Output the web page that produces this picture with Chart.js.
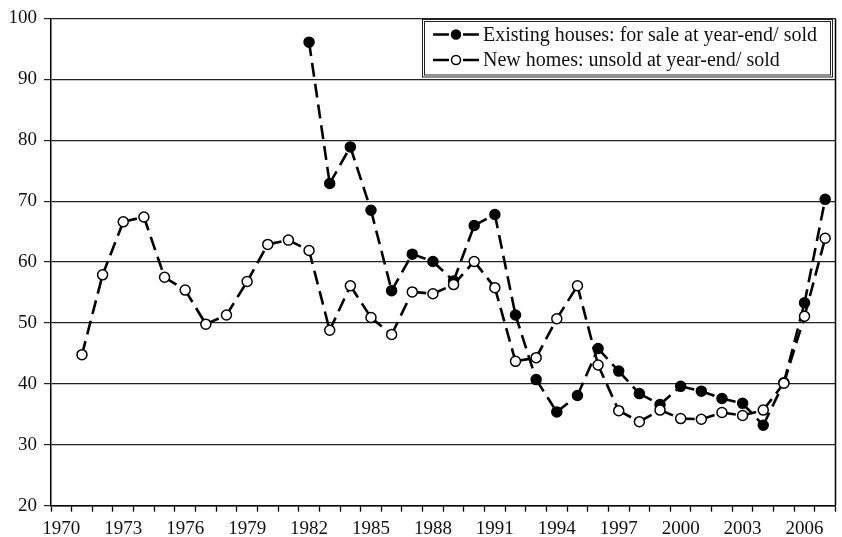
<!DOCTYPE html>
<html><head><meta charset="utf-8">
<script src="https://cdn.jsdelivr.net/npm/chart.js@4.4.1/dist/chart.umd.min.js"></script>
<style>html,body{margin:0;padding:0;background:#fff;}#wrap{width:842px;height:537px;position:relative;}</style>
</head><body><div id="wrap"><canvas id="c" width="842" height="537"></canvas></div>
<script>
const years = [1970,1971,1972,1973,1974,1975,1976,1977,1978,1979,1980,1981,1982,1983,1984,1985,1986,1987,1988,1989,1990,1991,1992,1993,1994,1995,1996,1997,1998,1999,2000,2001,2002,2003,2004,2005,2006,2007];
const existingHouses = [null,null,null,null,null,null,null,null,null,null,null,null,
  96.1,72.9,78.9,68.5,55.3,61.3,60.1,56.9,66.0,67.8,51.3,40.7,35.4,38.1,45.8,42.1,38.4,36.6,39.6,38.8,37.6,36.8,33.2,40.2,53.3,70.3];
const newHomes = [null,44.8,57.9,66.6,67.4,57.5,55.4,49.8,51.3,56.8,62.9,63.6,61.9,48.8,56.1,50.9,48.1,55.1,54.8,56.3,60.1,55.8,43.7,44.3,50.7,56.1,43.1,35.6,33.8,35.7,34.3,34.2,35.3,34.8,35.7,40.1,51.1,63.9];
const seriesNames = ['Existing houses: for sale at year-end/ sold','New homes: unsold at year-end/ sold'];
const yMin = 20, yMax = 100, yStep = 10;
const xLabelEvery = 3;

const FONT = 'Liberation Serif';
const DASH = [14, 7];

const segStyle = {
  borderDashOffset: ctx => ctx.p0DataIndex * 0.001
};

const borderPlugin = {
  id: 'frame',
  afterDraw(chart) {
    const {ctx, chartArea} = chart;
    ctx.save();
    ctx.strokeStyle = '#000';
    ctx.lineWidth = 1.5;
    ctx.beginPath();
    ctx.moveTo(chartArea.right, chartArea.top);
    ctx.lineTo(chartArea.right, chartArea.bottom);
    ctx.stroke();
    // legend
    const bx = 422.5, by = 19.5, bw = 410, bh = 57.5;
    ctx.fillStyle = '#fff';
    ctx.fillRect(bx, by, bw, bh);
    ctx.lineWidth = 1;
    ctx.strokeStyle = '#222';
    ctx.strokeRect(bx, by, bw, bh);
    ctx.strokeRect(bx + 2, by + 2, bw - 4, bh - 4);
    const rows = [34.5, 60];
    rows.forEach((ry, i) => {
      ctx.strokeStyle = '#000';
      ctx.lineWidth = 2.5;
      ctx.setLineDash([]);
      ctx.beginPath(); ctx.moveTo(433, ry); ctx.lineTo(449, ry); ctx.stroke();
      ctx.beginPath(); ctx.moveTo(463, ry); ctx.lineTo(479, ry); ctx.stroke();
      ctx.beginPath(); ctx.arc(456, ry, 4.5, 0, Math.PI * 2);
      ctx.fillStyle = i === 0 ? '#000' : '#fff';
      ctx.fill();
      ctx.lineWidth = 1.5; ctx.stroke();
      ctx.fillStyle = '#111';
      ctx.font = '20px "' + FONT + '"';
      ctx.textBaseline = 'middle';
      ctx.textAlign = 'left';
      ctx.fillText(seriesNames[i], 483, ry + 1);
    });
    ctx.restore();
  }
};

new Chart(document.getElementById('c'), {
  type: 'line',
  data: {
    labels: years.map(String),
    datasets: [
      {
        label: seriesNames[0], data: existingHouses, order: 1,
        borderColor: '#000', borderWidth: 2.6, borderDash: DASH,
        pointRadius: 5, pointBackgroundColor: '#000', pointBorderColor: '#000', pointBorderWidth: 1.5,
        segment: segStyle, spanGaps: false, fill: false
      },
      {
        label: seriesNames[1], data: newHomes, order: 0,
        borderColor: '#000', borderWidth: 2.6, borderDash: DASH,
        pointRadius: 5, pointBackgroundColor: '#fff', pointBorderColor: '#000', pointBorderWidth: 1.5,
        segment: segStyle, spanGaps: false, fill: false
      }
    ]
  },
  options: {
    responsive: false, animation: false, devicePixelRatio: 1,
    layout: { padding: { top: 17.7, right: 5, left: 0, bottom: 0 } },
    plugins: { legend: { display: false }, tooltip: { enabled: false } },
    elements: { line: { tension: 0 } },
    scales: {
      x: {
        type: 'category', offset: true,
        grid: { offset: true, drawOnChartArea: false, drawTicks: true, tickLength: 6, tickColor: '#000', tickWidth: 1.3 },
        border: { color: '#000', width: 1.5 },
        ticks: {
          autoSkip: false, maxRotation: 0, minRotation: 0, color: '#111', padding: 6,
          font: { family: FONT, size: 19 },
          callback: function (v, i) { const y = years[i]; return (y - years[0]) % xLabelEvery === 0 ? String(y) : ''; }
        },
        afterFit: s => { s.height = 31.3; }
      },
      y: {
        min: yMin, max: yMax,
        ticks: { stepSize: yStep, color: '#111', padding: 7, font: { family: FONT, size: 19 } },
        grid: { color: '#222', lineWidth: 1.2, tickLength: 7, tickColor: '#222' },
        border: { color: '#000', width: 1.5 },
        afterFit: s => { s.width = 51; }
      }
    }
  },
  plugins: [borderPlugin]
});
</script></body></html>
